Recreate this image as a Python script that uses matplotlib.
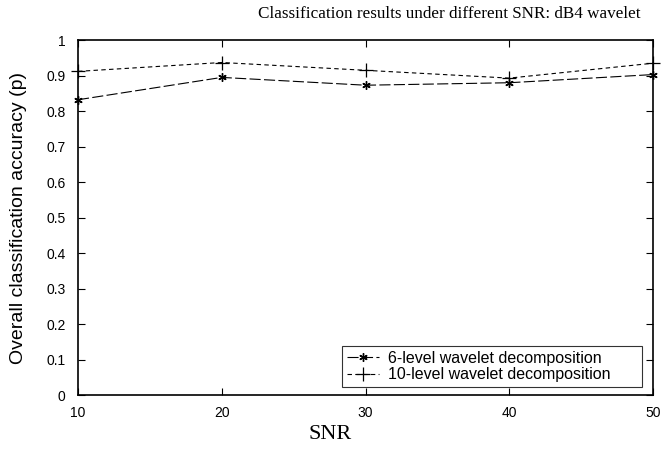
import numpy as np
import matplotlib.pyplot as plt

# values
snr = [10, 20, 30, 40, 50]
acc_6level = [0.832, 0.895, 0.873, 0.88, 0.903]
acc_10level = [0.912, 0.937, 0.915, 0.893, 0.935]

y_ticks = [0, 0.1, 0.2, 0.3, 0.4, 0.5, 0.6, 0.7, 0.8, 0.9, 1]
y_tick_labels = ["0", "0.1", "0.2", "0.3", "0.4", "0.5", "0.6", "0.7", "0.8", "0.9", "1"]

plt.rcParams['font.family'] = ['Liberation Sans', 'DejaVu Sans']

fig = plt.figure(figsize=(6.61, 4.51), dpi=100)
ax = fig.add_axes([0.118, 0.124, 0.87, 0.787])

ax.plot(snr, acc_6level, color="black", linewidth=0.8, linestyle=(0, (10, 3)),
        marker=(6, 2, 0), markersize=6, clip_on=False,
        label="6-level wavelet decomposition")
ax.plot(snr, acc_10level, color="black", linewidth=0.8, linestyle=(0, (4, 3)),
        marker="+", markersize=10, markeredgewidth=0.9, clip_on=False,
        label="10-level wavelet decomposition")

ax.set_xlim(10, 50)
ax.set_ylim(0, 1)
ax.set_xticks(snr)
ax.set_yticks(y_ticks)
ax.set_yticklabels(y_tick_labels)
ax.tick_params(direction="in", top=True, right=True, labelsize=10, length=5, width=0.8)
ax.tick_params(axis="y", pad=9)
ax.tick_params(axis="x", pad=8)
for s in ax.spines.values():
    s.set_linewidth(1.2)

ax.set_ylabel("Overall classification accuracy (p)", fontsize=14)
ax.yaxis.set_label_coords(-0.089, 0.5)
ax.set_xlabel("SNR", fontsize=16, family="Liberation Serif")
ax.xaxis.set_label_coords(0.438, -0.085)
fig.text(0.68, 0.968, "Classification results under different SNR: dB4 wavelet",
         ha="center", va="center", fontsize=12.3, family="Liberation Serif")

# legend box spans roughly the lower right of the axes, like the original
leg = ax.legend(loc="lower left", bbox_to_anchor=(0.459, 0.0225, 0.522, 0.104),
                mode="expand", fontsize=11.5, frameon=True, fancybox=False,
                edgecolor="black", borderaxespad=0, handlelength=2.0,
                handletextpad=0.6, labelspacing=0.1, borderpad=0.3)
leg.get_frame().set_linewidth(0.8)

plt.savefig("out.png", dpi=100)
